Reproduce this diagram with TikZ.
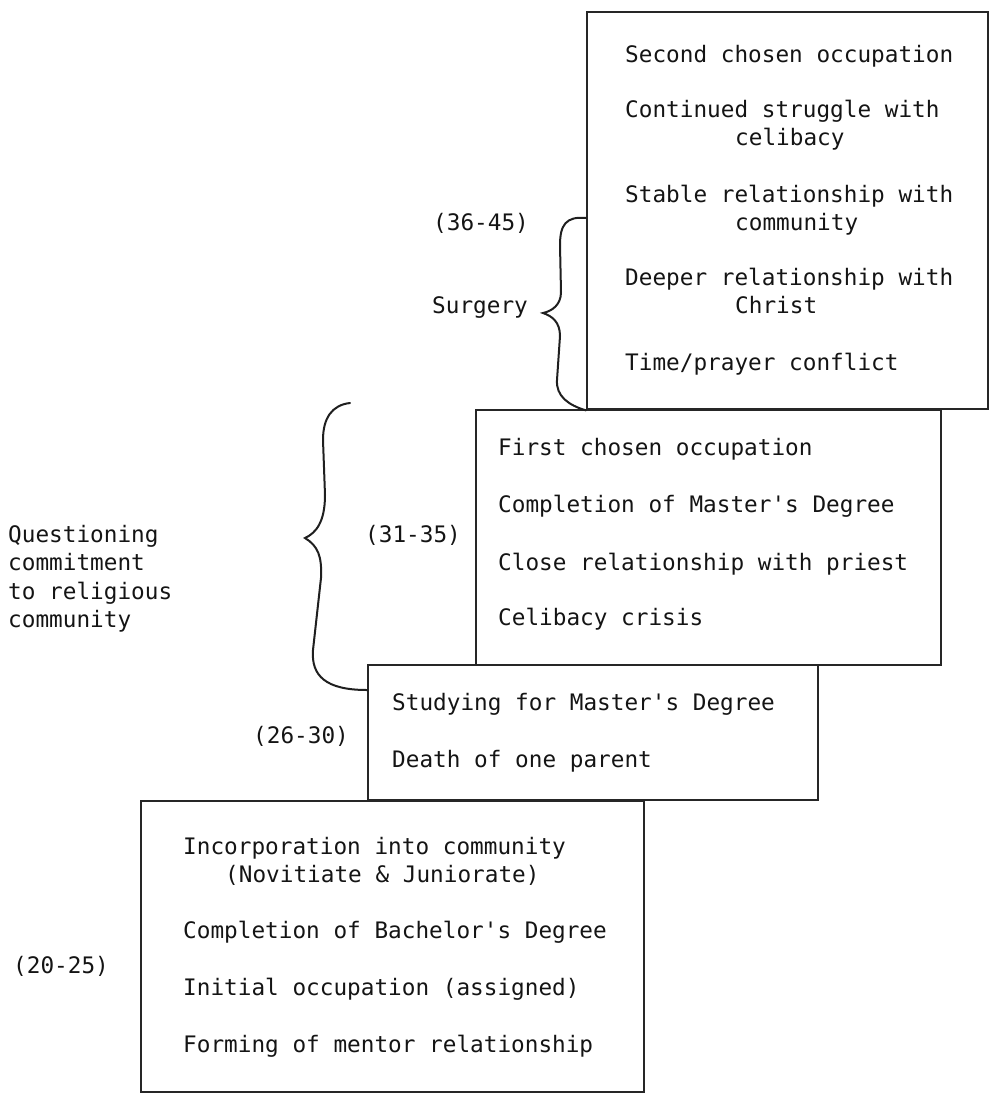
\documentclass[tikz,border=0pt]{standalone}
\usepackage{fontspec}
\setmonofont{DejaVu Sans Mono}

\begin{document}
\begin{tikzpicture}[x=1pt,y=-1pt]
	\tikzstyle{every node}+=[inner sep=0pt, text=black!92, font=\ttfamily\fontsize{22.7}{28}\selectfont]
	\tikzstyle{stage}=[draw=black!85, line width=2.4pt, anchor=north west]
	\tikzstyle{entry}=[anchor=base west]
	\tikzstyle{bracepath}=[draw=black!88, line width=2pt, line cap=round]
	\useasboundingbox (0,0) rectangle (989,1096);
	% the four stages, bottom one first
	\node [stage, minimum width=503pt, minimum height=291pt] (s20) at (140,800) {};
	\node [stage, minimum width=450pt, minimum height=135pt] (s26) at (367,664) {};
	\node [stage, minimum width=465pt, minimum height=255pt] (s31) at (475,409) {};
	\node [stage, minimum width=401pt, minimum height=397pt] (s36) at (586,11) {};
	% ages 36-45
	\node [entry] (s36a) at (625,62) {Second chosen occupation};
	\node [entry] (s36b) at (625,117) {Continued struggle with};
	\node [entry] (s36c) at (735,145) {celibacy};
	\node [entry] (s36d) at (625,202) {Stable relationship with};
	\node [entry] (s36e) at (735,230) {community};
	\node [entry] (s36f) at (625,285) {Deeper relationship with};
	\node [entry] (s36g) at (735,313) {Christ};
	\node [entry] (s36h) at (625,370) {Time/prayer conflict};
	% ages 31-35
	\node [entry] (s31a) at (498,455) {First chosen occupation};
	\node [entry] (s31b) at (498,512) {Completion of Master's Degree};
	\node [entry] (s31c) at (498,570) {Close relationship with priest};
	\node [entry] (s31d) at (498,625) {Celibacy crisis};
	% ages 26-30
	\node [entry] (s26a) at (392,710) {Studying for Master's Degree};
	\node [entry] (s26b) at (392,767) {Death of one parent};
	% ages 20-25
	\node [entry] (s20a) at (183,854) {Incorporation into community};
	\node [entry] (s20b) at (225,882) {(Novitiate \& Juniorate)};
	\node [entry] (s20c) at (183,938) {Completion of Bachelor's Degree};
	\node [entry] (s20d) at (183,995) {Initial occupation (assigned)};
	\node [entry] (s20e) at (183,1052) {Forming of mentor relationship};
	% age labels
	\node [entry] (age36) at (433,230) {(36-45)};
	\node [entry] (age31) at (365,542) {(31-35)};
	\node [entry] (age26) at (253,743) {(26-30)};
	\node [entry] (age20) at (13,973) {(20-25)};
	% brace labels
	\node [entry] (surg) at (432,313) {Surgery};
	\node [entry] (quest1) at (8,542) {Questioning};
	\node [entry] (quest2) at (8,570) {commitment};
	\node [entry] (quest3) at (8,599) {to religious};
	\node [entry] (quest4) at (8,627) {community};
	% braces
	\coordinate (sbtop) at (586,218);
	\coordinate (sbtip) at (543,313);
	\coordinate (bbtop) at (350,403);
	\coordinate (bbtip) at (305,538);
	\coordinate (bbend) at (367,690);
	\draw [bracepath] (sbtop) .. controls (566,216) and (560,225) .. (560,245) -- (561,292) .. controls (561,305) and (552,311) .. (sbtip) .. controls (552,316) and (560,322) .. (560,336) -- (557,380) .. controls (556,396) and (568,405) .. (s36.south west);
	\draw [bracepath] (bbtop) .. controls (332,405) and (323,418) .. (323,440) -- (325,495) .. controls (325,522) and (316,533) .. (bbtip) .. controls (318,546) and (322,556) .. (321,578) -- (313,650) .. controls (311,676) and (326,690) .. (bbend);
\end{tikzpicture}
\end{document}
